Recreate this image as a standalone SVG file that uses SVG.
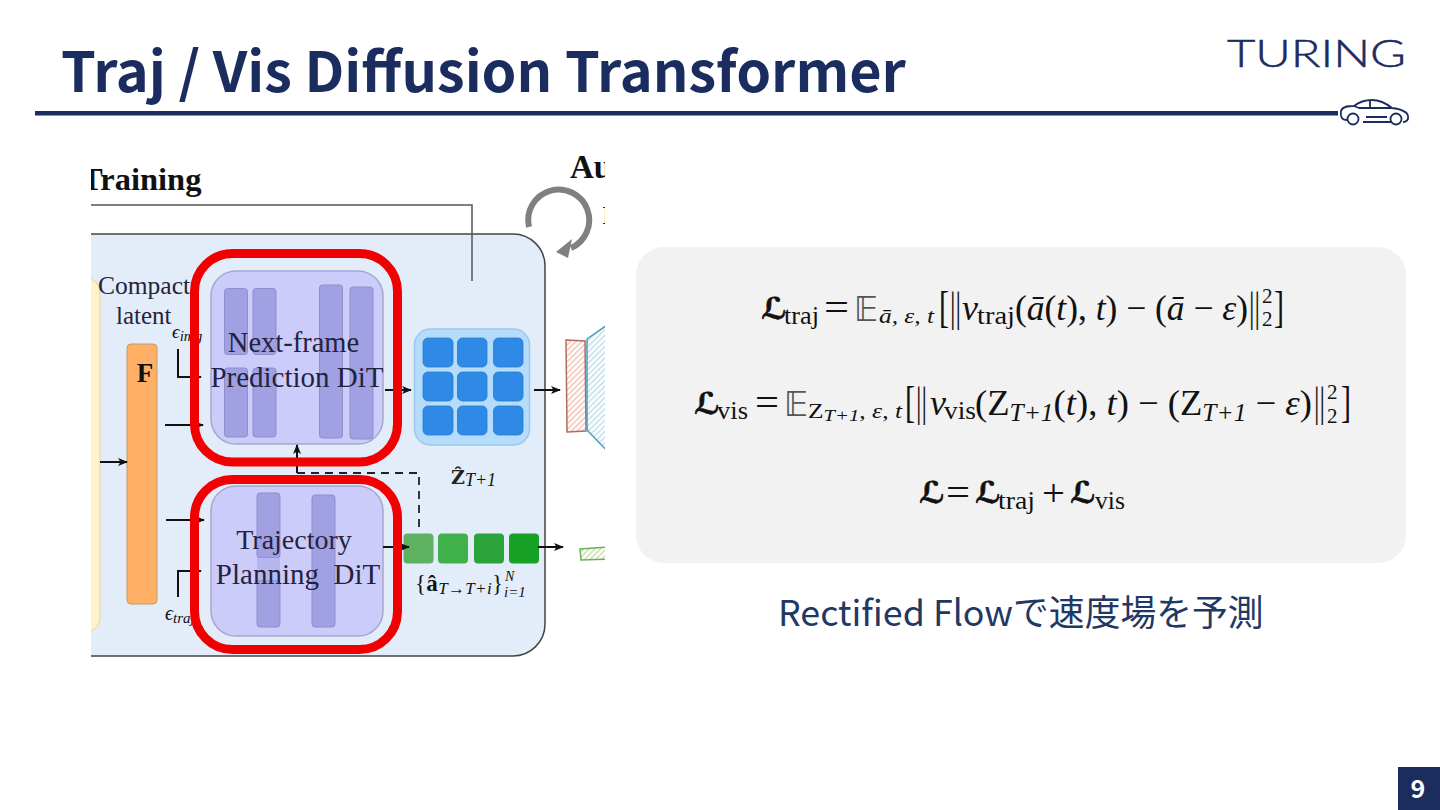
<svg xmlns="http://www.w3.org/2000/svg" width="1440" height="810" viewBox="0 0 1440 810">
<style>
.jp{font-family:"Noto Sans CJK JP","Noto Sans",sans-serif}
.s{font-family:"Liberation Serif",serif;fill:#23233f}
.m{font-family:"Liberation Serif",serif;fill:#111}
.mi{font-family:"Liberation Serif",serif;font-style:italic;fill:#111}
.i{font-style:italic}
.sc{font-family:"DejaVu Serif","DejaVu Sans",serif;font-weight:700;font-style:italic;font-size:30px;fill:#111;stroke:#111;stroke-width:.7}
.bb{font-family:"DejaVu Sans",sans-serif;font-size:33px;fill:#555}
.bar{fill:#a0a0e2;stroke:#8f8fcc;stroke-width:1}
.dit{fill:#ccccfb;stroke:#a6a6cc;stroke-width:1.5}
.red{fill:none;stroke:#f00000;stroke-width:9}
.cell{fill:#2e8ae6;stroke:#2a78c8;stroke-width:.8}
.ar{fill:none;stroke:#111;stroke-width:2;marker-end:url(#ah)}
</style>
<defs>
<marker id="ah" markerWidth="10" markerHeight="10" refX="9" refY="5" orient="auto" markerUnits="userSpaceOnUse"><path d="M0 1L10 5L0 9L2.500 5Z" fill="#111"/></marker>
<clipPath id="fig"><rect x="91" y="140" width="514" height="530"/></clipPath>
<pattern id="hr" width="4" height="4" patternUnits="userSpaceOnUse" patternTransform="rotate(45)"><rect width="4" height="4" fill="#fff"/><rect width="1.5" height="4" fill="#f2c4b8"/></pattern>
<pattern id="hb" width="4" height="4" patternUnits="userSpaceOnUse" patternTransform="rotate(45)"><rect width="4" height="4" fill="#fff"/><rect width="1.5" height="4" fill="#bfe0ea"/></pattern>
<pattern id="hg" width="4" height="4" patternUnits="userSpaceOnUse" patternTransform="rotate(45)"><rect width="4" height="4" fill="#fff"/><rect width="1.5" height="4" fill="#c4e0a8"/></pattern>
</defs>
<rect width="1440" height="810" fill="#fff"/>
<g id="header">
<text class="jp" x="61" y="92" font-size="55.8" font-weight="700" fill="#1a2d5e">Traj / Vis Diffusion Transformer</text>
<rect x="35" y="111" width="1303" height="4.5" fill="#1a2d5e"/>
<text x="1227" y="67" font-family="Lato,sans-serif" font-weight="300" font-size="38" fill="#1a2d5e" stroke="#1a2d5e" stroke-width=".5" textLength="179" lengthAdjust="spacingAndGlyphs">TURING</text>
<g id="car" fill="none" stroke="#1a2d5e" stroke-width="1.8" stroke-linejoin="round">
<path d="M1347 120C1342 120 1340 117 1341 111C1342 107 1346 106 1354 106C1359 102 1365 100 1372 100C1381 100 1387 104 1392 108C1400 109 1407 111 1408 116C1409 120 1406 122 1403 122M1391 122H1363"/>
<circle cx="1353" cy="119" r="5.5"/><circle cx="1396" cy="119" r="5.5"/>
<path d="M1354 106L1359 108H1392M1370 100V108M1366 117H1387"/>
</g>
</g>
<g id="figure" clip-path="url(#fig)">
<text class="m" x="81" y="190" font-size="32.500" font-weight="700" fill="#1a1a1a">Training</text>
<text class="m" x="570" y="178" font-size="33" font-weight="700" fill="#1a1a1a">Auto</text>
<text class="m" x="602" y="224" font-size="26" fill="#777">I</text>
<g id="loop-arrow"><path d="M529 227A30.500 30.500 0 1 1 571 248" fill="none" stroke="#808080" stroke-width="6"/><path d="M556 252L572 239L568 258Z" fill="#808080"/></g>
<rect id="main-box" x="40" y="234" width="505" height="422" rx="32" fill="#e3edf9" stroke="#444" stroke-width="1.5"/>
<rect id="encoder" x="60" y="278" width="40" height="354" rx="14" fill="#fff2cc" stroke="#e8d68c"/>
<g id="compact"><text class="s" x="98" y="294" font-size="25.500">Compact</text><text class="s" x="116" y="324" font-size="25">latent</text></g>
<g id="F"><rect x="127" y="344" width="30" height="260" rx="4" fill="#ffb066" stroke="#c89a60"/><text x="145" y="382" text-anchor="middle" class="m" font-size="27" font-weight="700">F</text></g>
<g id="eps"><text class="mi" x="172" y="338" font-size="19">ϵ<tspan font-size="15" dy="3">img</tspan></text><text class="mi" x="165" y="620" font-size="20">ϵ<tspan font-size="15" dy="3">traj</tspan></text></g>
<g id="next-frame-dit">
<rect class="dit" x="211" y="271" width="172" height="173" rx="25"/>
<rect class="bar" x="224.500" y="288.500" width="23" height="66" rx="3"/><rect class="bar" x="224.500" y="368" width="23" height="69" rx="3"/>
<rect class="bar" x="253" y="288.500" width="23" height="66" rx="3"/><rect class="bar" x="253" y="368" width="23" height="69" rx="3"/>
<rect class="bar" x="319.500" y="285" width="23" height="153" rx="3"/><rect class="bar" x="350" y="287" width="23" height="152" rx="3"/>
<text class="s" x="293.500" y="352" text-anchor="middle" font-size="28.500">Next-frame</text>
<text class="s" x="297" y="387" text-anchor="middle" font-size="29">Prediction DiT</text>
</g>
<g id="trajectory-dit">
<rect class="dit" x="211" y="486" width="172" height="150" rx="25"/>
<rect class="bar" x="257" y="493" width="23" height="65" rx="3"/><rect class="bar" x="257" y="580" width="23" height="47" rx="3"/><rect x="257" y="558" width="23" height="22" fill="#b6b6ef"/>
<rect class="bar" x="312" y="495" width="23" height="132" rx="3"/>
<text class="s" x="294" y="549" text-anchor="middle" font-size="28">Trajectory</text>
<text class="s" x="298" y="584" text-anchor="middle" font-size="29" xml:space="preserve">Planning  DiT</text>
</g>
<g id="latent-grid">
<rect x="414.500" y="329" width="115" height="116" rx="16" fill="#b5dcfb" stroke="#9cc8ef" stroke-width="1.500"/>
<rect class="cell" x="423" y="338" width="30" height="29" rx="5"/><rect class="cell" x="457.500" y="338" width="29.500" height="29" rx="5"/><rect class="cell" x="493.500" y="338" width="29.500" height="29" rx="5"/>
<rect class="cell" x="423" y="372" width="30" height="29" rx="5"/><rect class="cell" x="457.500" y="372" width="29.500" height="29" rx="5"/><rect class="cell" x="493.500" y="372" width="29.500" height="29" rx="5"/>
<rect class="cell" x="423" y="406" width="30" height="29" rx="5"/><rect class="cell" x="457.500" y="406" width="29.500" height="29" rx="5"/><rect class="cell" x="493.500" y="406" width="29.500" height="29" rx="5"/>
<text x="451" y="484" font-family="'DejaVu Serif',serif" font-weight="700" font-size="19" fill="#222">Ẑ<tspan class="mi" font-size="18" font-weight="400" dy="2">T+1</tspan></text>
</g>
<g id="action-tokens">
<rect x="403.500" y="533.500" width="30" height="30" rx="4" fill="#5eb161"/><rect x="438" y="533.500" width="30" height="30" rx="4" fill="#40b14a"/><rect x="474" y="533.500" width="30" height="30" rx="4" fill="#2ca33a"/><rect x="509" y="533.500" width="30" height="30" rx="4" fill="#17a124"/>
<text class="m" x="415" y="591" font-size="23" textLength="88" lengthAdjust="spacing">{<tspan font-weight="700">â</tspan><tspan class="mi" font-size="17" dy="3">T→T+i</tspan><tspan dy="-3">}</tspan></text>
<text class="mi" x="505" y="581" font-size="14">N</text><text class="mi" x="504" y="597" font-size="15">i=1</text>
</g>
<g id="decoders">
<path d="M566 340L585 341L586 431L567 432Z" fill="url(#hr)" stroke="#b56a5a" stroke-width="1.5"/>
<path d="M587 339L610 323V454L587 430Z" fill="url(#hb)" stroke="#4a9ab8" stroke-width="1.5"/>
<path d="M580 549L610 547V559L581 560Z" fill="url(#hg)" stroke="#6fae5a" stroke-width="1.5"/>
</g>
<g id="connectors">
<path d="M91 205H472V281" fill="none" stroke="#555" stroke-width="1.5"/>
<path class="ar" d="M100 462H127"/>
<path class="ar" d="M165 425H203"/>
<path class="ar" d="M166 520H204"/>
<path class="ar" d="M178 349V377H201"/>
<path class="ar" d="M178 597V571H201"/>
<path class="ar" d="M385 390H411"/>
<path class="ar" d="M534 390H560"/>
<path class="ar" d="M383 547H409"/>
<path class="ar" d="M538 547H563"/>
<path class="ar" d="M297 473V445"/>
<path d="M297 473H419V533" fill="none" stroke="#222" stroke-width="1.800" stroke-dasharray="8 6"/>
</g>
<g id="highlights">
<rect class="red" x="194.500" y="253.500" width="203" height="208.500" rx="38"/>
<rect class="red" x="194.500" y="479.500" width="203" height="170" rx="38"/>
</g>
</g>
<g id="loss-panel">
<rect x="636" y="247" width="770" height="316" rx="28" fill="#f2f2f2"/>
<g id="eq1">
<text class="sc" x="761" y="319">ℒ</text><text class="m" x="784" y="324" font-size="25" textLength="35" lengthAdjust="spacingAndGlyphs">traj</text>
<text class="m" x="824" y="320" font-size="38" textLength="25" lengthAdjust="spacingAndGlyphs">=</text>
<text class="bb" x="854" y="321">𝔼</text>
<text class="mi" x="879" y="323" font-size="21" textLength="55" lengthAdjust="spacingAndGlyphs" xml:space="preserve">ā, ε, t</text>
<text class="m" x="939" y="322" font-size="44" textLength="10" lengthAdjust="spacingAndGlyphs">[</text>
<text class="m" x="950" y="321" font-size="42" textLength="11" lengthAdjust="spacingAndGlyphs">||</text>
<text class="mi" x="962" y="320" font-size="36">v</text><text class="m" x="977" y="324" font-size="25" textLength="38" lengthAdjust="spacingAndGlyphs">traj</text>
<text class="m" x="1015" y="320" font-size="36" textLength="233" lengthAdjust="spacingAndGlyphs">(<tspan class="i">ā</tspan>(<tspan class="i">t</tspan>), <tspan class="i">t</tspan>) − (<tspan class="i">ā</tspan> − <tspan class="i">ε</tspan>)</text>
<text class="m" x="1249" y="321" font-size="42" textLength="11" lengthAdjust="spacingAndGlyphs">||</text>
<text class="m" x="1262" y="303" font-size="21">2</text><text class="m" x="1262" y="326" font-size="21">2</text>
<text class="m" x="1274" y="322" font-size="44" textLength="10" lengthAdjust="spacingAndGlyphs">]</text>
</g>
<g id="eq2">
<text class="sc" x="694" y="414">ℒ</text><text class="m" x="717" y="419" font-size="25" textLength="31" lengthAdjust="spacingAndGlyphs">vis</text>
<text class="m" x="755" y="415" font-size="38" textLength="24" lengthAdjust="spacingAndGlyphs">=</text>
<text class="bb" x="784" y="416">𝔼</text>
<text class="m" x="808" y="418" font-size="21" textLength="94" lengthAdjust="spacingAndGlyphs">Z<tspan class="mi" font-size="17" dy="3">T+1</tspan><tspan dy="-3">, </tspan><tspan class="i">ε</tspan>, <tspan class="i">t</tspan></text>
<text class="m" x="905" y="417" font-size="44" textLength="10" lengthAdjust="spacingAndGlyphs">[</text>
<text class="m" x="916" y="416" font-size="42" textLength="11" lengthAdjust="spacingAndGlyphs">||</text>
<text class="mi" x="930" y="415" font-size="36">v</text><text class="m" x="944" y="419" font-size="25" textLength="32" lengthAdjust="spacingAndGlyphs">vis</text>
<text class="m" x="975" y="415" font-size="36" textLength="337" lengthAdjust="spacingAndGlyphs">(Z<tspan class="mi" font-size="25" dy="6">T+1</tspan><tspan dy="-6">(</tspan><tspan class="i">t</tspan>), <tspan class="i">t</tspan>) − (Z<tspan class="mi" font-size="25" dy="6">T+1</tspan><tspan dy="-6"> − </tspan><tspan class="i">ε</tspan>)</text>
<text class="m" x="1314" y="416" font-size="42" textLength="11" lengthAdjust="spacingAndGlyphs">||</text>
<text class="m" x="1327" y="399" font-size="21">2</text><text class="m" x="1327" y="423" font-size="21">2</text>
<text class="m" x="1341" y="417" font-size="44" textLength="10" lengthAdjust="spacingAndGlyphs">]</text>
</g>
<g id="eq3">
<text class="sc" x="919" y="503">ℒ</text>
<text class="m" x="946" y="505" font-size="38" textLength="24" lengthAdjust="spacingAndGlyphs">=</text>
<text class="sc" x="975" y="503">ℒ</text><text class="m" x="998" y="509" font-size="25" textLength="37" lengthAdjust="spacingAndGlyphs">traj</text>
<text class="m" x="1042" y="506" font-size="38" textLength="23" lengthAdjust="spacingAndGlyphs">+</text>
<text class="sc" x="1070" y="503">ℒ</text><text class="m" x="1095" y="509" font-size="25" textLength="30" lengthAdjust="spacingAndGlyphs">vis</text>
</g>
</g>
<text id="caption" class="jp" x="778" y="626" font-size="35.800" fill="#1f3864">Rectified Flowで速度場を予測</text>
<g id="page"><rect x="1398" y="767" width="42" height="43" fill="#1a2d5e"/><text class="jp" x="1418" y="798" text-anchor="middle" font-size="25" font-weight="700" fill="#fff">9</text></g>
</svg>
